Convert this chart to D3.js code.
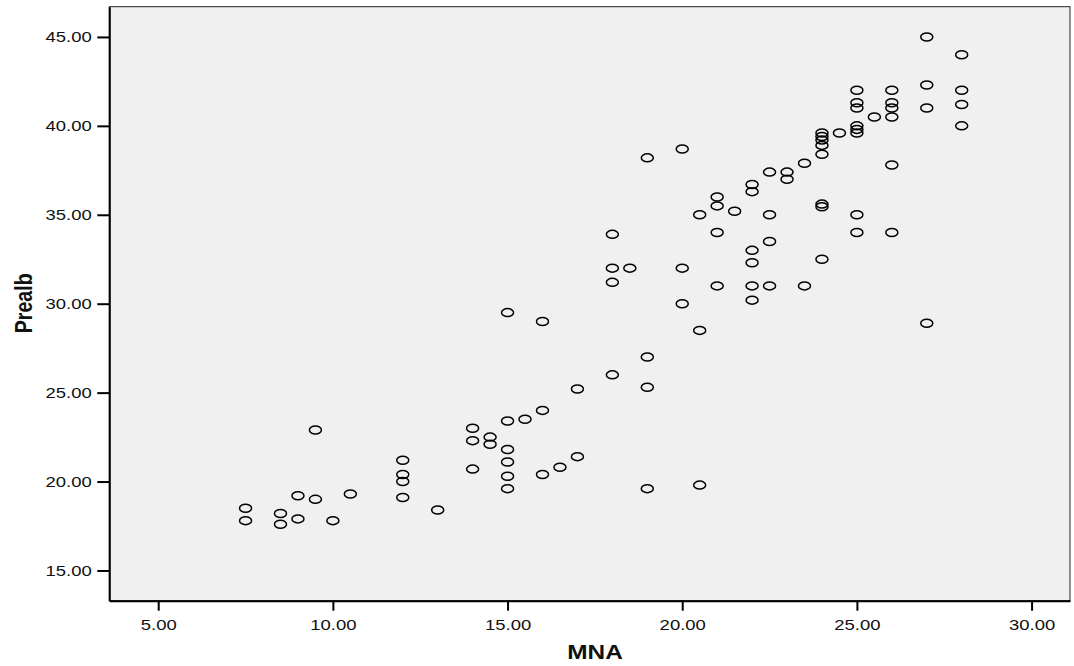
<!DOCTYPE html>
<html lang="en">
<meta charset="utf-8">
<title>Prealb vs MNA</title>
<style>
  body { margin: 0; background: #fff; }
  text { font-family: "Liberation Sans", Arial, sans-serif; fill: #111; }
</style>
<body>
<div id="chart"></div>
<script src="https://cdn.jsdelivr.net/npm/d3@7"></script>
<script>
// MNA score and prealbumin, one entry per patient
var mna = [
  7.5, 7.5, 8.5, 8.5, 9, 9, 9.5, 9.5, 10, 10.5,
  12, 12, 12, 12, 13,
  14, 14, 14, 14.5, 14.5,
  15, 15, 15, 15, 15, 15, 15.5,
  16, 16, 16, 16.5, 17, 17,
  18, 18, 18, 18, 18.5,
  19, 19, 19, 19,
  20, 20, 20, 20.5, 20.5, 20.5,
  21, 21, 21, 21, 21.5,
  22, 22, 22, 22, 22, 22,
  22.5, 22.5, 22.5, 22.5, 23, 23, 23.5, 23.5,
  24, 24, 24, 24, 24, 24, 24, 24, 24.5,
  25, 25, 25, 25, 25, 25, 25, 25, 25.5,
  26, 26, 26, 26, 26, 26,
  27, 27, 27, 27,
  28, 28, 28, 28
];
var prealb = [
  18.5, 17.8, 18.2, 17.6, 19.2, 17.9, 22.9, 19.0, 17.8, 19.3,
  21.2, 20.4, 20.0, 19.1, 18.4,
  23.0, 22.3, 20.7, 22.5, 22.1,
  29.5, 23.4, 21.8, 21.1, 20.3, 19.6, 23.5,
  29.0, 24.0, 20.4, 20.8, 25.2, 21.4,
  33.9, 32.0, 31.2, 26.0, 32.0,
  38.2, 27.0, 25.3, 19.6,
  38.7, 32.0, 30.0, 35.0, 28.5, 19.8,
  36.0, 35.5, 34.0, 31.0, 35.2,
  36.7, 36.3, 33.0, 32.3, 31.0, 30.2,
  37.4, 35.0, 33.5, 31.0, 37.4, 37.0, 37.9, 31.0,
  39.6, 39.4, 39.2, 38.9, 38.4, 35.6, 35.45, 32.5, 39.6,
  42.0, 41.3, 41.0, 40.0, 39.8, 39.6, 35.0, 34.0, 40.5,
  42.0, 41.3, 41.0, 40.5, 37.8, 34.0,
  45.0, 42.3, 41.0, 28.9,
  44.0, 42.0, 41.2, 40.0
];
var xTicks = [5, 10, 15, 20, 25, 30];
var yTicks = [15, 20, 25, 30, 35, 40, 45];
var xLabel = "MNA";
var yLabel = "Prealb";

var W = 1074, H = 666;
var plot = { left: 109.3, right: 1070, top: 6.7, bottom: 600.7 };
var stretch = 1.2; // the original image is a bit wider than tall

var svg = d3.select("#chart").append("svg")
  .attr("width", W).attr("height", H);

var x = d3.scaleLinear().domain([3.6, 31.1]).range([plot.left, plot.right]);
var y = d3.scaleLinear().domain([13.3, 46.7]).range([plot.bottom, plot.top]);

// plot background and thin frame
svg.append("rect")
  .attr("x", plot.left).attr("y", plot.top)
  .attr("width", plot.right - plot.left).attr("height", plot.bottom - plot.top)
  .attr("fill", "#f0f0f0").attr("stroke", "#222").attr("stroke-width", 1);

// points
svg.append("g").selectAll("ellipse")
  .data(d3.range(mna.length))
  .join("ellipse")
  .attr("cx", i => x(mna[i]))
  .attr("cy", i => y(prealb[i]))
  .attr("rx", 6).attr("ry", 4)
  .attr("fill", "none").attr("stroke", "#000").attr("stroke-width", 1.5);

// axes
var fmt = d3.format(".2f");
var gx = svg.append("g")
  .attr("transform", "translate(0," + plot.bottom + ")")
  .call(d3.axisBottom(x).tickValues(xTicks).tickFormat(fmt).tickSize(10).tickSizeOuter(0));
var gy = svg.append("g")
  .attr("transform", "translate(" + plot.left + ",0)")
  .call(d3.axisLeft(y).tickValues(yTicks).tickFormat(fmt).tickSize(12).tickSizeOuter(0));

[gx, gy].forEach(function(g) {
  g.select(".domain").attr("stroke", "#000").attr("stroke-width", 2);
  g.selectAll(".tick line").attr("stroke", "#000").attr("stroke-width", 2);
  g.selectAll(".tick text")
    .attr("font-family", "Liberation Sans, Arial, sans-serif")
    .attr("font-size", 15.4).attr("fill", "#111");
});
gx.selectAll(".tick text").attr("y", 18.3).attr("transform", "scale(" + stretch + ",1)");
gy.selectAll(".tick text").attr("x", -17.6 / stretch).attr("transform", "scale(" + stretch + ",1)");

// axis titles
svg.append("text")
  .attr("transform", "translate(595,659) scale(" + 1.22 + ",1)")
  .attr("text-anchor", "middle")
  .attr("font-size", 20).attr("font-weight", "bold")
  .text(xLabel);

svg.append("text")
  .attr("transform", "translate(31.5,303.3) scale(" + stretch + ",1) rotate(-90)")
  .attr("text-anchor", "middle")
  .attr("font-size", 19.6).attr("font-weight", "bold")
  .text(yLabel);
</script>
</body>
</html>
